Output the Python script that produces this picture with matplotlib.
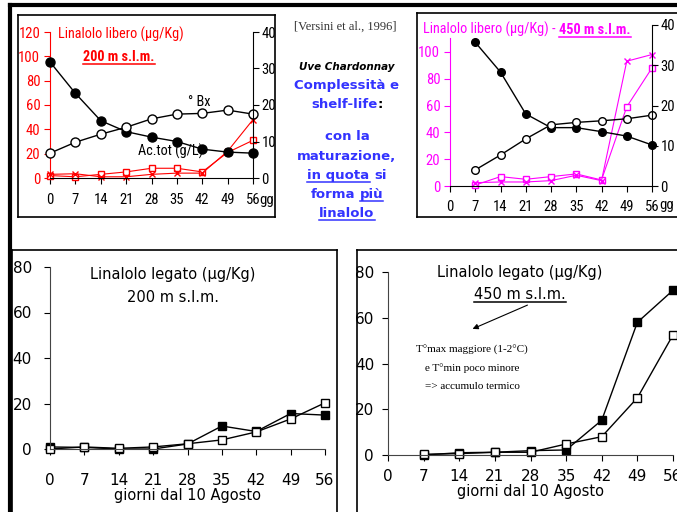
import matplotlib
matplotlib.use("Agg")
import matplotlib.pyplot as plt
from matplotlib.lines import Line2D

# ---- data ----
days = [0, 7, 14, 21, 28, 35, 42, 49, 56]
days_450 = [7, 14, 21, 28, 35, 42, 49, 56]

# 200 m: free linalool (left axis, ug/Kg), acidity and Brix (right axis)
acid_200 = [31.8, 23.2, 15.7, 12.7, 11.2, 10.0, 7.9, 7.1, 6.8]
brix_200 = [6.8, 9.8, 12.0, 13.9, 16.2, 17.5, 17.7, 18.6, 17.5]
free_sq_200 = [2, 1, 3, 5, 8, 8, 5, 21, 31]
free_x_200 = [3, 3.5, 1, 1, 3, 4, 4, 22, 48]

# 450 m
acid_450 = [35.7, 28.3, 17.9, 14.5, 14.5, 13.5, 12.4, 10.2]
brix_450 = [4.0, 7.7, 11.7, 15.2, 15.8, 16.2, 16.7, 17.6]
free_sq_450 = [0.7, 7, 5, 7, 9, 4.5, 59, 88]
free_x_450 = [2.5, 3, 3, 4, 8, 4, 93, 98]

# bound linalool (ug/Kg)
bound_fill_200 = [0.9, 0.7, 0, 0, 2.2, 10.1, 7.7, 15.6, 14.9]
bound_open_200 = [0, 0.9, 0.3, 0.9, 2.3, 4.0, 7.5, 13.2, 20.3]
bound_fill_450 = [0, 1, 1.2, 1.9, 2.2, 15.2, 58, 72]
bound_open_450 = [0.3, 0.6, 1.2, 1.2, 4.8, 8, 25, 52.5]

W, H = 677, 512
fig = plt.figure(figsize=(W / 100, H / 100), dpi=100)
renderer = fig.canvas.get_renderer()

narrow = ["Roboto Condensed", "Liberation Sans Narrow", "Liberation Sans"]
RED = "#ff0000"
MAG = "#ff00ff"
BLUE = "#3333ff"
FS_TOP = 10.5
FS_TXT = 10.3


def rect(x0, y0, x1, y1):
    return [x0 / W, 1 - y1 / H, (x1 - x0) / W, (y1 - y0) / H]


def fline(x0, y0, x1, y1, lw=1.0, color="black"):
    fig.add_artist(Line2D([x0 / W, x1 / W], [1 - y0 / H, 1 - y1 / H], lw=lw, color=color))


def box(x0, y0, x1, y1, lw=1.2):
    fline(x0, y0, x1, y0, lw)
    fline(x1, y0, x1, y1, lw)
    fline(x1, y1, x0, y1, lw)
    fline(x0, y1, x0, y0, lw)


def rich_line(xc, y, pieces, size, weight="bold", style="normal", family="DejaVu Sans", sep=True):
    # pieces: (text, color, underline, weight or None); a space goes between pieces if sep
    t1 = fig.text(0, 0, "xx", fontsize=size, family=family, weight=weight, style=style)
    t2 = fig.text(0, 0, "x x", fontsize=size, family=family, weight=weight, style=style)
    sp = t2.get_window_extent(renderer).width - t1.get_window_extent(renderer).width
    t1.remove()
    t2.remove()
    if not sep:
        sp = 0
    texts, widths = [], []
    for piece in pieces:
        s, color, ul = piece[:3]
        w8 = piece[3] if len(piece) > 3 else weight
        t = fig.text(0, 1 - y / H, s, color=color, va="baseline", ha="left",
                     fontsize=size, family=family, weight=w8, style=style)
        texts.append(t)
        widths.append(t.get_window_extent(renderer).width)
    total = sum(widths) + sp * (len(pieces) - 1)
    x = xc - total / 2
    for t, w, piece in zip(texts, widths, pieces):
        t.set_x(x / W)
        if piece[2]:
            fline(x, y + 2.5, x + w, y + 2.5, lw=1.1, color=piece[1])
        x += w + sp


def top_ticks(ax):
    for lab in ax.get_xticklabels() + ax.get_yticklabels():
        lab.set_family(narrow)


# ---- frames ----
fline(10, 5, W, 5, lw=3)
fline(10, 5, 10, H, lw=3)
box(18, 15, 275, 217)
box(417, 13, 690, 217)
box(12, 250, 337, 520)
box(357, 250, 690, 520)

# ---- top-left: 200 m free linalool ----
ax1 = fig.add_axes(rect(50, 32, 253, 178))
ax1.plot(days, free_sq_200, color=RED, lw=0.8, marker="s", ms=4.5, mfc="white", mec=RED, clip_on=False)
ax1.plot(days, free_x_200, color=RED, lw=0.8, marker="x", ms=4.5, clip_on=False)
ax1.set_xlim(0, 56)
ax1.set_ylim(0, 120)
ax1.set_xticks(days)
ax1.set_yticks(range(0, 121, 20))
ax1.tick_params(axis="y", colors=RED, labelsize=FS_TOP, length=4, pad=3)
ax1.tick_params(axis="x", labelsize=FS_TOP, length=4, pad=7)
top_ticks(ax1)
ax1.spines["left"].set_color(RED)
for s in ["top", "right"]:
    ax1.spines[s].set_visible(False)
ax1.patch.set_alpha(0)

ax1r = ax1.twinx()
ax1r.plot(days, acid_200, color="black", lw=1, marker="o", ms=6.5, mfc="black", clip_on=False)
ax1r.plot(days, brix_200, color="black", lw=1, marker="o", ms=6.5, mfc="white", mec="black", clip_on=False)
ax1r.set_ylim(0, 40)
ax1r.set_yticks(range(0, 41, 10))
ax1r.tick_params(axis="y", labelsize=FS_TOP, length=4, pad=2)
top_ticks(ax1r)
for s in ["top", "left", "bottom"]:
    ax1r.spines[s].set_visible(False)
ax1r.annotate("gg", xy=(56, 0), xycoords=("data", "axes fraction"), xytext=(4.5, -11),
              textcoords="offset points", ha="left", va="top", fontsize=FS_TOP, family=narrow)

fig.text(58 / W, 1 - 39 / H, "Linalolo libero (µg/Kg)", color=RED, fontsize=FS_TXT, family=narrow)
rich_line(119, 61, [("200 m s.l.m.", RED, True)], FS_TXT, weight="bold", family=narrow)
fig.text(188 / W, 1 - 106 / H, "° Bx", fontsize=FS_TXT, family=narrow)
fig.text(138 / W, 1 - 156 / H, "Ac.tot (g/L)", fontsize=FS_TXT, family=narrow)

# ---- top-right: 450 m free linalool ----
ax2 = fig.add_axes(rect(450, 25, 652, 186))
ax2.plot(days_450, free_sq_450, color=MAG, lw=0.8, marker="s", ms=4, mfc="white", mec=MAG, clip_on=False)
ax2.plot(days_450, free_x_450, color=MAG, lw=0.8, marker="x", ms=4.5, clip_on=False)
ax2.set_xlim(0, 56)
ax2.set_ylim(0, 120)
ax2.set_xticks(days)
ax2.set_yticks(range(0, 101, 20))
ax2.spines["left"].set_bounds(0, 110)
ax2.spines["left"].set_color(MAG)
for s in ["top", "right"]:
    ax2.spines[s].set_visible(False)
ax2.tick_params(axis="y", colors=MAG, labelsize=FS_TOP, length=4, pad=3)
ax2.tick_params(axis="x", labelsize=FS_TOP, length=4, pad=6)
top_ticks(ax2)
ax2.patch.set_alpha(0)

ax2r = ax2.twinx()
ax2r.plot(days_450, acid_450, color="black", lw=1, marker="o", ms=5.5, mfc="black", clip_on=False)
ax2r.plot(days_450, brix_450, color="black", lw=1, marker="o", ms=5.5, mfc="white", mec="black", clip_on=False)
ax2r.set_ylim(0, 40)
ax2r.set_yticks(range(0, 41, 10))
ax2r.tick_params(axis="y", labelsize=FS_TOP, length=4, pad=2)
top_ticks(ax2r)
for s in ["top", "left", "bottom"]:
    ax2r.spines[s].set_visible(False)
ax2r.annotate("gg", xy=(56, 0), xycoords=("data", "axes fraction"), xytext=(5, -9),
              textcoords="offset points", ha="left", va="top", fontsize=FS_TOP, family=narrow)

rich_line(527, 34, [("Linalolo libero (µg/Kg) -", MAG, False, "normal"),
                    ("450 m s.l.m.", MAG, True, "bold")], FS_TXT, weight="normal", family=narrow)

# ---- middle text ----
fig.text(345 / W, 1 - 30 / H, "[Versini et al., 1996]", ha="center", va="baseline",
         fontsize=9, family="Liberation Serif", color="#333333")
rich_line(347, 70, [("Uve Chardonnay", "black", False)], 7.5, style="italic")
rich_line(347, 89, [("Complessità e", BLUE, False)], 9.5)
rich_line(347, 108, [("shelf-life", BLUE, False), (":", "black", False)], 9.5, sep=False)
rich_line(347, 140, [("con la", BLUE, False)], 9.5)
rich_line(347, 160, [("maturazione,", BLUE, False)], 9.5)
rich_line(347, 179, [("in quota", BLUE, True), ("si", BLUE, False)], 9.5)
rich_line(347, 198, [("forma", BLUE, False), ("più", BLUE, True)], 9.5)
rich_line(347, 217, [("linalolo", BLUE, True)], 9.5)


# ---- bottom charts: bound linalool ----
def bound_axes(box_px, x, filled, opened, lpad, xpad):
    ax = fig.add_axes(rect(*box_px))
    ax.plot(x, filled, color="black", lw=1, marker="s", ms=6, mfc="black", mec="black", clip_on=False)
    ax.plot(x, opened, color="black", lw=1, marker="s", ms=6, mfc="white", mec="black", mew=1, clip_on=False)
    ax.set_xlim(0, 56)
    ax.set_ylim(0, 80)
    ax.set_xticks(days)
    ax.set_yticks(range(0, 81, 20))
    ax.tick_params(axis="y", labelsize=11, length=4, width=0.8, pad=lpad)
    ax.tick_params(axis="x", labelsize=11, length=4, width=0.8, pad=xpad)
    for s in ["top", "right"]:
        ax.spines[s].set_visible(False)
    for s in ["left", "bottom"]:
        ax.spines[s].set_color("#444444")
        ax.spines[s].set_linewidth(0.8)
    ax.patch.set_alpha(0)
    return ax


ax3 = bound_axes((50, 267, 325, 449), days, bound_fill_200, bound_open_200, 9, 13)
ax3.set_xlabel("giorni dal 10 Agosto", fontsize=10.5, labelpad=0)
fig.text(173 / W, 1 - 279 / H, "Linalolo legato (µg/Kg)", ha="center", fontsize=10.5)
fig.text(173 / W, 1 - 302 / H, "200 m s.l.m.", ha="center", fontsize=10.5)

ax4 = bound_axes((388, 272, 673, 455), days_450, bound_fill_450, bound_open_450, 6, 6)
ax4.set_xlabel("giorni dal 10 Agosto", fontsize=10.5, labelpad=0)
fig.text(520 / W, 1 - 277 / H, "Linalolo legato (µg/Kg)", ha="center", fontsize=10.5)
rich_line(520, 299, [("450 m s.l.m.", "black", True)], 10.5, weight="normal")
fig.add_artist(matplotlib.patches.FancyArrowPatch((530 / W, 1 - 304 / H), (470 / W, 1 - 330 / H),
                                                  transform=fig.transFigure, arrowstyle="-|>",
                                                  mutation_scale=8, lw=0.8, color="black"))
for yy, s in [(353, "T°max maggiore (1-2°C)"), (371, "e T°min poco minore"), (389, "=> accumulo termico")]:
    fig.text(472 / W, 1 - yy / H, s, ha="center", va="baseline", fontsize=8, family="Liberation Serif")

fig.savefig("out.png", dpi=100)
